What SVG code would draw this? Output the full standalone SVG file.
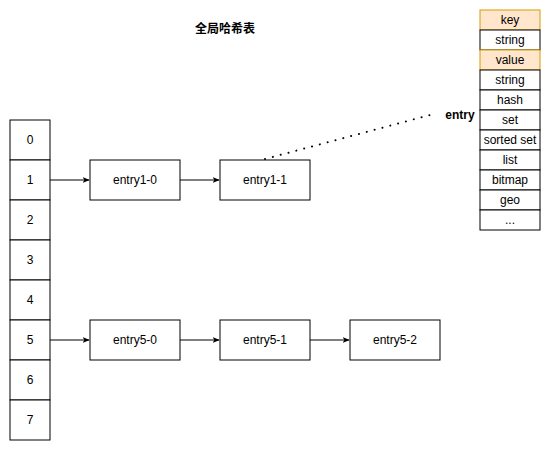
<svg xmlns="http://www.w3.org/2000/svg" width="551" height="451" viewBox="0 0 551 451">
<style>
.b{fill:#fff;stroke:#000;stroke-width:1}
.o{fill:#ffe6cc;stroke:#d79b00;stroke-width:1}
text{font-family:"Liberation Sans",Arial,sans-serif;font-size:12px;fill:#000;text-anchor:middle;dominant-baseline:central}
.bold{font-weight:bold}
.c{stroke:#000;stroke-width:1;fill:none}
</style>
<defs>
<marker id="ar" viewBox="0 0 10 10" refX="9" refY="5" markerWidth="7" markerHeight="7" markerUnits="userSpaceOnUse" orient="auto">
<path d="M0,1 L10,5 L0,9 L2.5,5 Z" fill="#000"/>
</marker>
</defs>
<rect width="551" height="451" fill="#fff"/>
<g id="title"><text class="bold" x="225" y="27" style="font-family:'Noto Sans CJK SC','Liberation Sans',sans-serif">全局哈希表</text></g>
<g id="buckets">
<g id="b0"><rect class="b" x="10" y="120" width="40" height="40"/><text x="30" y="140">0</text></g>
<g id="b1"><rect class="b" x="10" y="160" width="40" height="40"/><text x="30" y="180">1</text></g>
<g id="b2"><rect class="b" x="10" y="200" width="40" height="40"/><text x="30" y="220">2</text></g>
<g id="b3"><rect class="b" x="10" y="240" width="40" height="40"/><text x="30" y="260">3</text></g>
<g id="b4"><rect class="b" x="10" y="280" width="40" height="40"/><text x="30" y="300">4</text></g>
<g id="b5"><rect class="b" x="10" y="320" width="40" height="40"/><text x="30" y="340">5</text></g>
<g id="b6"><rect class="b" x="10" y="360" width="40" height="40"/><text x="30" y="380">6</text></g>
<g id="b7"><rect class="b" x="10" y="400" width="40" height="40"/><text x="30" y="420">7</text></g>
</g>
<g id="entry1-0"><rect class="b" x="90" y="160" width="90" height="40"/><text x="135" y="180">entry1-0</text></g>
<g id="entry1-1"><rect class="b" x="220" y="160" width="90" height="40"/><text x="265" y="180">entry1-1</text></g>
<g id="entry5-0"><rect class="b" x="90" y="320" width="90" height="40"/><text x="135" y="340">entry5-0</text></g>
<g id="entry5-1"><rect class="b" x="220" y="320" width="90" height="40"/><text x="265" y="340">entry5-1</text></g>
<g id="entry5-2"><rect class="b" x="350" y="320" width="90" height="40"/><text x="395" y="340">entry5-2</text></g>
<g id="entry-label"><text class="bold" x="460" y="115">entry</text></g>
<g id="entry-struct">
<rect class="o" x="480" y="10" width="60" height="20"/><text x="510" y="20">key</text>
<rect class="b" x="480" y="30" width="60" height="20"/><text x="510" y="40">string</text>
<rect class="o" x="480" y="50" width="60" height="20"/><text x="510" y="60">value</text>
<rect class="b" x="480" y="70" width="60" height="20"/><text x="510" y="80">string</text>
<rect class="b" x="480" y="90" width="60" height="20"/><text x="510" y="100">hash</text>
<rect class="b" x="480" y="110" width="60" height="20"/><text x="510" y="120">set</text>
<rect class="b" x="480" y="130" width="60" height="20"/><text x="510" y="140">sorted set</text>
<rect class="b" x="480" y="150" width="60" height="20"/><text x="510" y="160">list</text>
<rect class="b" x="480" y="170" width="60" height="20"/><text x="510" y="180">bitmap</text>
<rect class="b" x="480" y="190" width="60" height="20"/><text x="510" y="200">geo</text>
<rect class="b" x="480" y="210" width="60" height="20"/><text x="510" y="220">...</text>
</g>
<g id="connectors">
<path class="c" d="M50,180 H89" marker-end="url(#ar)"/>
<path class="c" d="M180,180 H219" marker-end="url(#ar)"/>
<path class="c" d="M50,340 H89" marker-end="url(#ar)"/>
<path class="c" d="M180,340 H219" marker-end="url(#ar)"/>
<path class="c" d="M310,340 H349" marker-end="url(#ar)"/>
<path d="M265,159 L430,115" stroke="#000" stroke-width="2" stroke-dasharray="0.1 8" stroke-linecap="round" fill="none"/>
</g>
</svg>
